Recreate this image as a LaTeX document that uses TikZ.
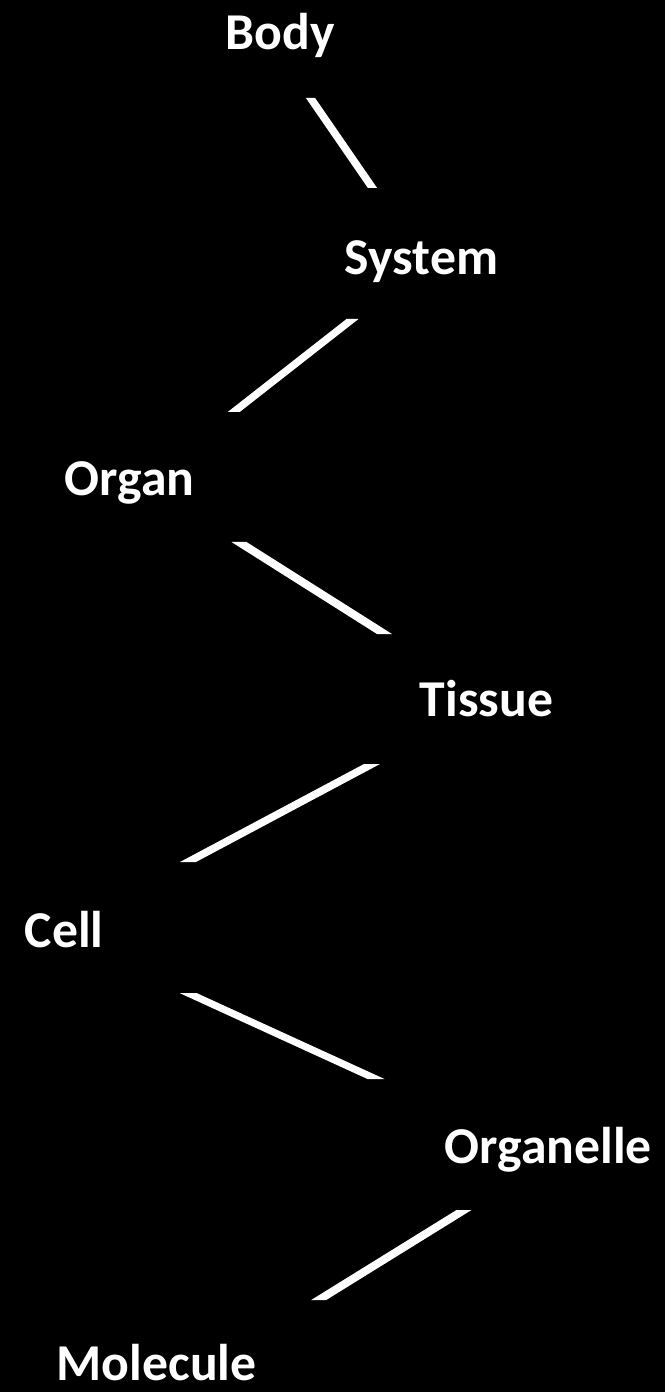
\documentclass[tikz,border=0pt]{standalone}
\usepackage{fontspec}
\setmainfont{Carlito}
\usepackage{tikz}
\usetikzlibrary{calc}

% one connector: a band with flat (horizontal) ends
\newcommand{\rung}[3]{%
  \fill[rung] ($(#1)+(-#3,0)$) -- ($(#1)+(#3,0)$) -- ($(#2)+(#3,0)$) -- ($(#2)+(-#3,0)$) -- cycle;}

\begin{document}
\begin{tikzpicture}[
  x=0.01cm, y=-0.01cm,
  level/.style={
    text=white,
    font=\fontsize{14.7}{17}\selectfont\bfseries,
    anchor=base west,
    inner sep=0pt
  },
  rung/.style={
    fill=white
  }
]

% Background
\fill[black] (0,0) rectangle (665,1392);
\useasboundingbox (0,0) rectangle (665,1392);

% Levels
\node[level] (body)      at (225,50)   {Body};
\node[level] (system)    at (344,275)  {System};
\node[level] (organ)     at (64,496)   {Organ};
\node[level] (tissue)    at (419,716)  {Tissue};
\node[level] (cell)      at (24,947)   {Cell};
\node[level] (organelle) at (444,1163) {Organelle};
\node[level] (molecule)  at (56,1380)  {Molecule};

% Connector ends
\coordinate (body-out)      at (310.5,98);
\coordinate (system-in)     at (372.5,188);
\coordinate (system-out)    at (352.5,319);
\coordinate (organ-in)      at (233.7,412);
\coordinate (organ-out)     at (239,542);
\coordinate (tissue-in)     at (384.5,634);
\coordinate (tissue-out)    at (372,764);
\coordinate (cell-in)       at (188,862);
\coordinate (cell-out)      at (188,993);
\coordinate (organelle-in)  at (376,1079);
\coordinate (organelle-out) at (464,1210);
\coordinate (molecule-in)   at (318.7,1300);

% Connectors
\rung{body-out}{system-in}{4.6}
\rung{system-out}{organ-in}{6}
\rung{organ-out}{tissue-in}{7.5}
\rung{tissue-out}{cell-in}{8}
\rung{cell-out}{organelle-in}{8.5}
\rung{organelle-out}{molecule-in}{7.5}

\end{tikzpicture}
\end{document}
